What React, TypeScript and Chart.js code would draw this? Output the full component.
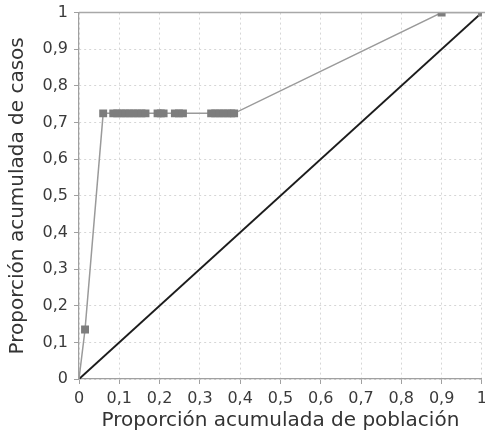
import React, { useEffect, useRef } from "react";
import { Chart, registerables } from "chart.js";

Chart.register(...registerables);

// Cumulative proportion of population (x) and of cases (y) — Lorenz curve
const poblacionAcum = [
  0, 0.015, 0.06, 0.085, 0.095, 0.105, 0.115, 0.125, 0.135, 0.145, 0.155, 0.165,
  0.195, 0.203, 0.21, 0.238, 0.248, 0.258, 0.328, 0.338, 0.348, 0.358, 0.368,
  0.378, 0.385, 0.9, 1,
];
const casosAcum = [
  0, 0.135, 0.725, 0.725, 0.725, 0.725, 0.725, 0.725, 0.725, 0.725, 0.725, 0.725,
  0.725, 0.725, 0.725, 0.725, 0.725, 0.725, 0.725, 0.725, 0.725, 0.725, 0.725,
  0.725, 0.725, 1, 1,
];
// Line of equality
const igualdadX = [0, 1];
const igualdadY = [0, 1];

const xTitle = "Proporción acumulada de población";
const yTitle = "Proporción acumulada de casos";

const FONT = "'DejaVu Sans', sans-serif";

const fmt = (v: number) => String(Math.round(v * 10) / 10).replace(".", ",");

export default function App() {
  const ref = useRef<HTMLCanvasElement | null>(null);

  useEffect(() => {
    if (!ref.current) return;
    const topLine = {
      id: "topLine",
      afterDatasetsDraw(chart: any) {
        const { ctx, chartArea } = chart;
        ctx.save();
        ctx.strokeStyle = "#a8a8a8";
        ctx.lineWidth = 1.5;
        ctx.beginPath();
        ctx.moveTo(chartArea.left, chartArea.top);
        ctx.lineTo(chartArea.right + 5, chartArea.top);
        ctx.stroke();
        ctx.restore();
      },
    };
    const chart = new Chart(ref.current, {
      type: "scatter",
      data: {
        datasets: [
          {
            label: "Curva",
            data: poblacionAcum.map((x, i) => ({ x, y: casosAcum[i] })),
            showLine: true,
            borderColor: "#9a9a9a",
            borderWidth: 1.5,
            backgroundColor: "#7d7d7d",
            pointStyle: "rect",
            pointRadius: (c: any) => (c.dataIndex === 0 ? 0 : 5.6),
            pointBorderWidth: 0,
            pointHoverRadius: 5.6,
          },
          {
            label: "Igualdad",
            data: igualdadX.map((x, i) => ({ x, y: igualdadY[i] })),
            showLine: true,
            borderColor: "#1c1c1c",
            borderWidth: 2,
            pointRadius: 0,
          },
        ],
      },
      options: {
        responsive: false,
        animation: false,
        layout: { padding: 0 },
        plugins: {
          legend: { display: false },
          tooltip: { enabled: false },
          title: { display: false },
        },
        scales: {
          x: {
            type: "linear",
            min: 0,
            max: 1,
            afterFit: (s: any) => {
              s.height = 59;
            },
            ticks: {
              stepSize: 0.1,
              padding: 5,
              color: "#3a3a3a",
              font: { family: FONT, size: 16 },
              callback: (v: any) => fmt(Number(v)),
              maxRotation: 0,
              autoSkip: false,
            },
            grid: {
              color: "#d6d6d6",
              lineWidth: 1,
              tickLength: 5,
              tickColor: "#a0a0a0",
            },
            border: { display: true, color: "#a0a0a0", width: 1.2, dash: [2, 3] },
            title: {
              display: true,
              text: xTitle,
              color: "#333",
              font: { family: FONT, size: 20 },
              padding: { top: 0, bottom: 5 },
            },
          },
          y: {
            type: "linear",
            min: 0,
            max: 1,
            afterFit: (s: any) => {
              s.width = 79;
            },
            ticks: {
              stepSize: 0.1,
              padding: 6,
              color: "#3a3a3a",
              font: { family: FONT, size: 16 },
              callback: (v: any) => fmt(Number(v)),
            },
            grid: {
              color: "#d6d6d6",
              lineWidth: 1,
              tickLength: 5,
              tickColor: "#a0a0a0",
            },
            border: { display: true, color: "#a0a0a0", width: 1.2, dash: [2, 3] },
            title: {
              display: true,
              text: yTitle,
              color: "#333",
              font: { family: FONT, size: 20 },
              padding: { top: 6, bottom: 0 },
            },
          },
        },
      },
      plugins: [topLine],
    } as any);
    return () => chart.destroy();
  }, []);

  return (
    <div
      style={{
        position: "fixed",
        left: 0,
        top: 0,
        width: 485,
        height: 438,
        overflow: "hidden",
        background: "#fff",
      }}
    >
      <canvas
        ref={ref}
        width={492}
        height={441}
        style={{ display: "block", marginTop: -3 }}
      />
    </div>
  );
}
